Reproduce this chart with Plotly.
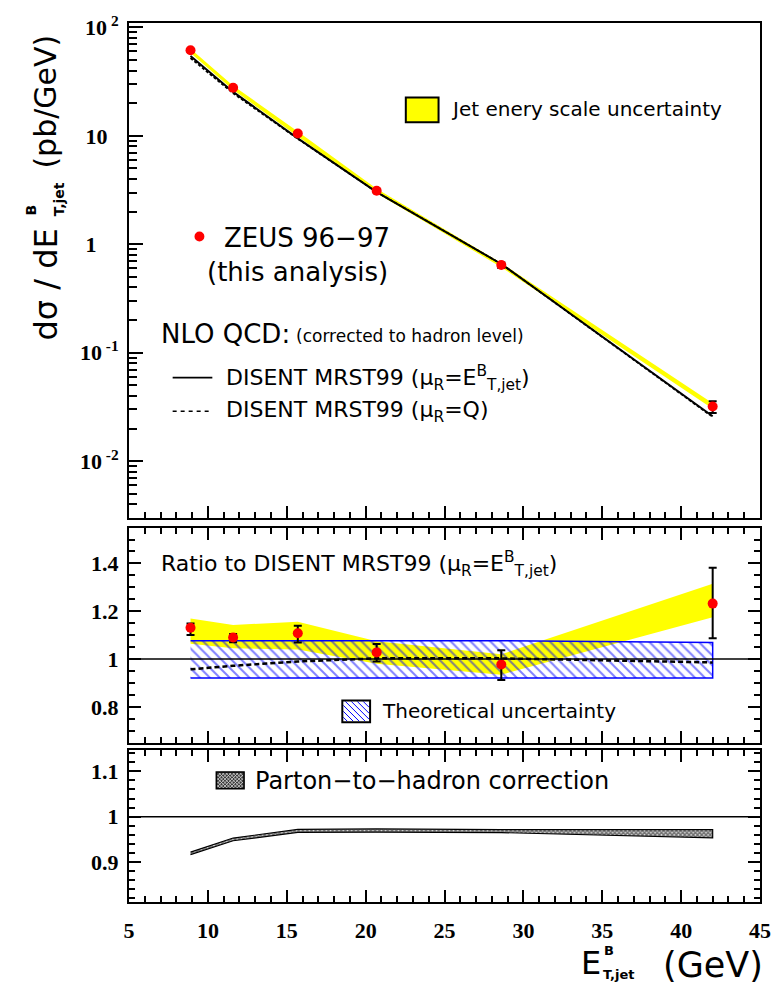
import plotly.graph_objects as go

# ---------------- data ----------------
et = [8.9, 11.6, 15.7, 20.7, 28.6, 42.0]

# top panel: cross section (pb/GeV)
xsec = [61.5, 27.7, 10.5, 3.11, 0.643, 0.032]
xsec_err_up = [1.2, 0.4, 0.3, 0.1, 0.035, 0.0037]
xsec_err_dn = [1.5, 0.5, 0.35, 0.11, 0.04, 0.0041]
nlo_et = [54.4, 25.4, 9.48, 3.025, 0.658, 0.026]
nlo_q = [52.1, 24.7, 9.39, 3.03, 0.66, 0.0256]
jes_top_lo = [57.9, 26.5, 9.86, 2.96, 0.615, 0.0305]
jes_top_hi = [63.6, 29.0, 10.96, 3.25, 0.671, 0.0342]

# middle panel: ratio to DISENT MRST99 (mu_R = E_T)
ratio = [1.131, 1.090, 1.108, 1.028, 0.977, 1.232]
ratio_err_up = [0.018, 0.015, 0.031, 0.035, 0.060, 0.150]
ratio_err_dn = [0.030, 0.020, 0.039, 0.038, 0.064, 0.145]
ratio_q = [0.957, 0.972, 0.990, 1.003, 1.003, 0.986]
jes_ratio_lo = [1.064, 1.045, 1.040, 0.980, 0.935, 1.175]
jes_ratio_hi = [1.170, 1.143, 1.156, 1.075, 1.020, 1.315]
theo_lo = [0.921, 0.921, 0.921, 0.921, 0.921, 0.921]
theo_hi = [1.077, 1.077, 1.077, 1.078, 1.077, 1.069]

# bottom panel: parton-to-hadron correction
had_lo = [0.9165, 0.947, 0.9655, 0.966, 0.965, 0.9535]
had_hi = [0.922, 0.953, 0.972, 0.973, 0.9715, 0.9715]

# tick labels
top_tickvals = [0.01, 0.1, 1, 10, 100]
top_ticktext = ["10<sup> -2</sup>", "10<sup> -1</sup>", "1\u2007\u2007", "10\u2007", "10<sup> 2</sup>"]
mid_tickvals = [0.8, 1.0, 1.2, 1.4]
mid_ticktext = ["0.8", "1", "1.2", "1.4"]
bot_tickvals = [0.9, 1.0, 1.1]
bot_ticktext = ["0.9", "1", "1.1"]

# ---------------- layout geometry ----------------
W, H = 783, 994
ML, MR, MT, MB = 129, 18, 17, 92
PW, PH = W - ML - MR, H - MT - MB


def px(x):
    return (x - ML) / PW


def py(y):
    return (H - MB - y) / PH


def band(xs, lo, hi):
    return list(xs) + list(xs)[::-1], list(hi) + list(lo)[::-1]


fig = go.Figure()

# ---- top panel ----
bx, by = band(et, jes_top_lo, jes_top_hi)
fig.add_trace(go.Scatter(x=bx, y=by, fill="toself", fillcolor="#ffff00",
                         line=dict(width=0), mode="lines", xaxis="x", yaxis="y",
                         hoverinfo="skip"))
fig.add_trace(go.Scatter(x=et, y=nlo_q, mode="lines",
                         line=dict(color="black", width=1.8, dash="3px,2px"),
                         xaxis="x", yaxis="y"))
fig.add_trace(go.Scatter(x=et, y=nlo_et, mode="lines",
                         line=dict(color="black", width=2), xaxis="x", yaxis="y"))
fig.add_trace(go.Scatter(x=et, y=xsec, mode="markers",
                         marker=dict(color="red", size=10),
                         error_y=dict(type="data", symmetric=False, array=xsec_err_up,
                                      arrayminus=xsec_err_dn, color="black",
                                      thickness=2, width=4),
                         xaxis="x", yaxis="y"))

# ---- middle panel ----
bx, by = band(et, jes_ratio_lo, jes_ratio_hi)
fig.add_trace(go.Scatter(x=bx, y=by, fill="toself", fillcolor="#ffff00",
                         line=dict(width=0), mode="lines", xaxis="x2", yaxis="y2"))
bx, by = band(et, theo_lo, theo_hi)
fig.add_trace(go.Scatter(x=bx, y=by, fill="toself", fillcolor="rgba(0,0,0,0)",
                         fillpattern=dict(shape="\\", fgcolor="#0000ff",
                                          bgcolor="rgba(0,0,0,0)", size=7,
                                          solidity=0.28, fillmode="overlay"),
                         line=dict(color="#0000ff", width=1.5), mode="lines",
                         xaxis="x2", yaxis="y2"))
fig.add_trace(go.Scatter(x=et, y=ratio_q, mode="lines",
                         line=dict(color="black", width=2.5, dash="5px,3px"),
                         xaxis="x2", yaxis="y2"))
fig.add_trace(go.Scatter(x=et, y=ratio, mode="markers",
                         marker=dict(color="red", size=10),
                         error_y=dict(type="data", symmetric=False, array=ratio_err_up,
                                      arrayminus=ratio_err_dn, color="black",
                                      thickness=2, width=4),
                         xaxis="x2", yaxis="y2"))

# ---- bottom panel ----
bx, by = band(et, had_lo, had_hi)
fig.add_trace(go.Scatter(x=bx, y=by, fill="toself", fillcolor="#bbbbbb",
                         fillpattern=dict(shape="x", fgcolor="black", bgcolor="#dddddd",
                                          size=3, solidity=0.7),
                         line=dict(color="black", width=1.2), mode="lines",
                         xaxis="x3", yaxis="y3"))

# ---------------- axes ----------------
tickfont = dict(family="Liberation Serif", size=22, color="black", weight="bold")
common_x = dict(range=[5, 45], tickmode="linear", tick0=5, dtick=5, ticks="inside",
                ticklen=12, tickwidth=2, tickcolor="black", showline=True,
                linewidth=2, linecolor="black", showgrid=False, zeroline=False,
                minor=dict(ticks="inside", ticklen=6, tickwidth=1.5, tickcolor="black",
                           dtick=1, tick0=5, showgrid=False),
                tickfont=tickfont)
common_y = dict(ticks="inside", tickwidth=2, tickcolor="black", showline=True,
                linewidth=2, linecolor="black", showgrid=False, zeroline=False,
                tickfont=tickfont, tickmode="array", ticklabelstandoff=4)

dom_top = [py(515), 1.0]
dom_mid = [py(741.7), py(525)]
dom_bot = [0.0, py(749)]

top_minor = [m * 10 ** e for e in range(-3, 2) for m in range(2, 10)]

fig.update_layout(
    xaxis=dict(common_x, anchor="y", showticklabels=False, mirror=True),
    yaxis=dict(common_y, type="log", domain=dom_top, range=[-2.52, 2.04],
               tickvals=top_tickvals, ticktext=top_ticktext, ticklen=14,
               mirror=True, anchor="x",
               minor=dict(ticks="inside", ticklen=8, tickwidth=1.5,
                          tickcolor="black", tickmode="array", tickvals=top_minor,
                          showgrid=False)),
    xaxis2=dict(common_x, anchor="y2", showticklabels=False, mirror="ticks"),
    yaxis2=dict(common_y, domain=dom_mid, range=[0.65, 1.55], tickvals=mid_tickvals,
                ticktext=mid_ticktext, ticklen=12, mirror="ticks", anchor="x2",
                minor=dict(ticks="inside", ticklen=6, tickwidth=1.5,
                           tickcolor="black", dtick=0.05, tick0=0.65,
                           showgrid=False)),
    xaxis3=dict(common_x, anchor="y3", showticklabels=True, mirror="ticks",
                ticklabelstandoff=8),
    yaxis3=dict(common_y, domain=dom_bot, range=[0.812, 1.147], tickvals=bot_tickvals,
                ticktext=bot_ticktext, ticklen=12, mirror="ticks", anchor="x3",
                minor=dict(ticks="inside", ticklen=6, tickwidth=1.5,
                           tickcolor="black", dtick=0.02, tick0=0.8,
                           showgrid=False)),
)

# ---------------- decorations: reference lines, legend boxes ----------------
shapes = [
    dict(type="line", xref="paper", x0=0, x1=1, yref="y2", y0=1, y1=1,
         line=dict(color="black", width=1.5), layer="above"),
    dict(type="line", xref="paper", x0=0, x1=1, yref="y3", y0=1, y1=1,
         line=dict(color="black", width=1.5), layer="above"),
    # yellow legend box
    dict(type="rect", xref="paper", yref="paper", x0=px(408), x1=px(441),
         y0=py(117), y1=py(92), fillcolor="#ffff00", line=dict(color="black", width=2)),
    # ZEUS dot
    dict(type="circle", xref="paper", yref="paper", x0=px(195), x1=px(205),
         y0=py(237), y1=py(227), fillcolor="red", line=dict(width=0)),
    # legend line samples
    dict(type="line", xref="paper", yref="paper", x0=px(173), x1=px(213),
         y0=py(374), y1=py(374), line=dict(color="black", width=1.8)),
    dict(type="line", xref="paper", yref="paper", x0=px(173), x1=px(213),
         y0=py(408), y1=py(408), line=dict(color="black", width=1.5, dash="4px,4px")),
]


def hatch_path(x0, x1, y0, y1, step, flip=False):
    segs = []
    if not flip:
        c = y0 - x1
        while c <= y1 - x0:
            xa = max(x0, y0 - c)
            xb = min(x1, y1 - c)
            if xa < xb:
                segs.append(f"M{px(xa):.5f},{py(xa + c):.5f} L{px(xb):.5f},{py(xb + c):.5f}")
            c += step
    else:
        c = y0 + x0
        while c <= y1 + x1:
            xa = max(x0, c - y1)
            xb = min(x1, c - y0)
            if xa < xb:
                segs.append(f"M{px(xa):.5f},{py(c - xa):.5f} L{px(xb):.5f},{py(c - xb):.5f}")
            c += step
    return " ".join(segs)


# theoretical-uncertainty legend box
shapes.append(dict(type="path", xref="paper", yref="paper",
                   path=hatch_path(345, 371, 700, 720, 6),
                   line=dict(color="#0000ff", width=1)))
shapes.append(dict(type="rect", xref="paper", yref="paper", x0=px(344), x1=px(372),
                   y0=py(721), y1=py(699), line=dict(color="black", width=2)))
# parton-to-hadron legend box (cross-hatched)
shapes.append(dict(type="rect", xref="paper", yref="paper", x0=px(217), x1=px(245),
                   y0=py(788), y1=py(771), fillcolor="#3a3a3a",
                   line=dict(width=0)))
shapes.append(dict(type="path", xref="paper", yref="paper",
                   path=hatch_path(218, 244, 772, 787, 3.5),
                   line=dict(color="#d8d8d8", width=0.8)))
shapes.append(dict(type="path", xref="paper", yref="paper",
                   path=hatch_path(218, 244, 772, 787, 3.5, flip=True),
                   line=dict(color="#d8d8d8", width=0.8)))
shapes.append(dict(type="rect", xref="paper", yref="paper", x0=px(217), x1=px(245),
                   y0=py(788), y1=py(771), line=dict(color="black", width=1.5)))

fig.update_layout(shapes=shapes)

# ---------------- text ----------------
SANS = "DejaVu Sans"


def txt(x, y, s, size, xanchor="left", yanchor="middle", angle=0, bold=False, family=SANS):
    f = dict(family=family, size=size, color="black")
    if bold:
        f["weight"] = "bold"
    return dict(xref="paper", yref="paper", x=px(x), y=py(y), text=s, showarrow=False,
                xanchor=xanchor, yanchor=yanchor, textangle=angle, font=f,
                borderpad=0)


mu_et = "(μ<sub>R</sub>=E<sup>B</sup><sub>T,jet</sub>)"
annotations = [
    txt(453, 104, "Jet enery scale uncertainty", 20),
    txt(224, 233, "ZEUS 96\u221297", 26),
    txt(207, 268, "(this analysis)", 26),
    txt(160, 330, "NLO QCD:", 26),
    txt(296, 332, "(corrected to hadron level)", 17),
    txt(226, 374, "DISENT MRST99 " + mu_et, 22),
    txt(226, 408, "DISENT MRST99 (μ<sub>R</sub>=Q)", 22),
    txt(160, 562, "Ratio to DISENT MRST99 " + mu_et, 22),
    txt(383, 710, "Theoretical uncertainty", 20),
    txt(255, 780, "Parton\u2212to\u2212hadron correction", 24),
    # x title
    txt(606, 963, "E", 32, xanchor="right"),
    txt(607, 951, "B", 13, bold=True),
    txt(606, 975, "T,jet", 13, bold=True),
    txt(769, 965, "(GeV)", 35, xanchor="right"),
    # y title (rotated)
    txt(45, 338, "dσ / dE", 32, xanchor="center", yanchor="bottom", angle=-90),
    txt(30, 205, "B", 14, xanchor="center", angle=-90, bold=True),
    txt(58, 195, "T,jet", 14, xanchor="center", angle=-90, bold=True),
    txt(45, 28, "(pb/GeV)", 30, xanchor="center", yanchor="top", angle=-90),
]
fig.update_layout(annotations=annotations)

fig.update_layout(width=W, height=H, margin=dict(l=ML, r=MR, t=MT, b=MB, pad=0),
                  plot_bgcolor="white", paper_bgcolor="white", showlegend=False)

fig.write_html("out.html")
